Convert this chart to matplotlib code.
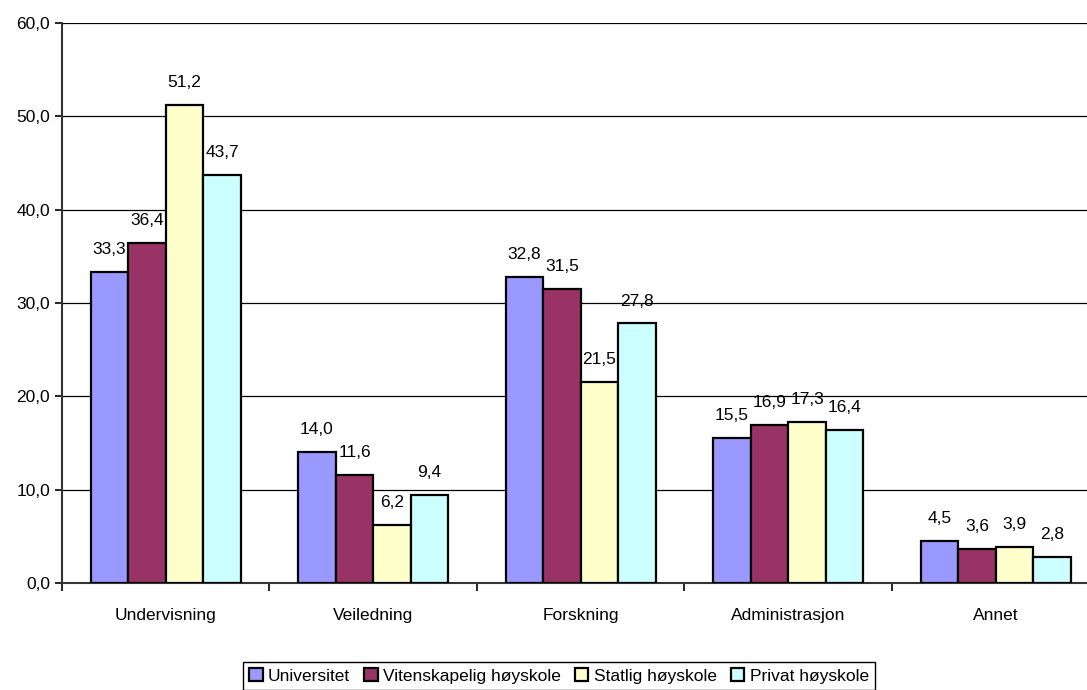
import numpy as np
import matplotlib.pyplot as plt

# Data
categories = ["Undervisning", "Veiledning", "Forskning", "Administrasjon", "Annet"]
series_names = ["Universitet", "Vitenskapelig høyskole", "Statlig høyskole", "Privat høyskole"]
universitet = [33.3, 14.0, 32.8, 15.5, 4.5]
vitenskapelig = [36.4, 11.6, 31.5, 16.9, 3.6]
statlig = [51.2, 6.2, 21.5, 17.3, 3.9]
privat = [43.7, 9.4, 27.8, 16.4, 2.8]

colors = ["#9999FF", "#993366", "#FFFFCC", "#CCFFFF"]

plt.rcParams["font.family"] = ["Liberation Sans", "DejaVu Sans"]

fig = plt.figure(figsize=(10.87, 6.90), dpi=100)
ax = fig.add_axes([0.057, 0.155, 0.9545, 0.812])

x = np.arange(len(categories))
width = 0.181
all_series = [universitet, vitenskapelig, statlig, privat]
for i, (vals, name, c) in enumerate(zip(all_series, series_names, colors)):
    pos = x + (i - 1.5) * width
    ax.bar(pos, vals, width, color=c, edgecolor="black", linewidth=1.6,
           label=name, zorder=3)
    for p, v in zip(pos, vals):
        ax.text(p, v + 1.6, f"{v:.1f}".replace(".", ","), ha="center",
                va="bottom", fontsize=12.5, color="black")

ax.set_xlim(-0.5, len(categories) - 0.5)
ax.set_ylim(0, 60)
yt = np.arange(0, 61, 10)
ax.set_yticks(yt)
ax.set_yticklabels([f"{v:.1f}".replace(".", ",") for v in yt], fontsize=12.5)
ax.yaxis.grid(True, color="black", linewidth=0.9, zorder=0)
ax.set_axisbelow(True)

ax.set_xticks(x)
ax.set_xticklabels(categories, fontsize=12.5)
ax.tick_params(axis="x", length=0, pad=18)
ax.set_xticks(np.arange(-0.5, len(categories)), minor=True)
ax.tick_params(axis="x", which="minor", length=6, width=1.2, direction="out")
ax.tick_params(axis="y", length=5, width=1.2, direction="out")

for s in ["top", "right"]:
    ax.spines[s].set_visible(False)
ax.spines["left"].set_linewidth(1.5)
ax.spines["bottom"].set_linewidth(1.5)
ax.spines["left"].set_color("#333333")
ax.spines["bottom"].set_color("#333333")

leg = fig.legend(loc="lower center", bbox_to_anchor=(0.514, -0.012), ncol=4,
                 fontsize=12.5, frameon=True, fancybox=False, edgecolor="black",
                 handlelength=0.8, handleheight=0.8, handletextpad=0.3,
                 columnspacing=0.8, borderpad=0.35, framealpha=1)
leg.get_frame().set_linewidth(1.0)
for h in leg.legend_handles:
    h.set_linewidth(1.6)

fig.savefig("out.png", dpi=100)
